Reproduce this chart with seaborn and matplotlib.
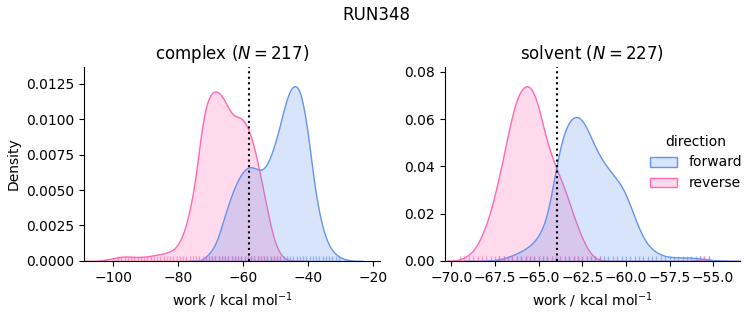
import numpy as np
import pandas as pd
import matplotlib
matplotlib.use("Agg")
import matplotlib.pyplot as plt
import seaborn as sns

# ---------------- data ----------------
phases = ["complex", "solvent"]
directions = ["forward", "reverse"]
n_samples = {"complex": 217, "solvent": 227}
free_energy = {"complex": -58.25, "solvent": -63.97}   # dotted vertical lines
palette = {"forward": "cornflowerblue", "reverse": "hotpink"}

# work grid (kcal/mol) and density at each grid point
complex_step = 1.0
complex_forward_start = -72.5
complex_forward_density = [
    0.0001, 0.0003, 0.0005, 0.0008, 0.0012, 0.0018, 0.0026, 0.0034, 0.0041, 0.0048,
    0.0054, 0.0059, 0.0063, 0.0066, 0.0068, 0.0068, 0.0067, 0.0066, 0.0065, 0.0066,
    0.0070, 0.0075, 0.0082, 0.0090, 0.0099, 0.0109, 0.0118, 0.0124, 0.0127, 0.0127,
    0.0124, 0.0114, 0.0100, 0.0083, 0.0062, 0.0046, 0.0034, 0.0023, 0.0016, 0.0011,
    0.0007, 0.0005, 0.0003, 0.0002, 0.0001, 0.0001]
complex_reverse_start = -103.5
complex_reverse_density = [
    0.00005, 0.0001, 0.00013, 0.00018, 0.00022, 0.00027, 0.0003, 0.00033, 0.00032, 0.0003,
    0.00028, 0.00028, 0.0003, 0.0003, 0.00033, 0.00037, 0.00042, 0.00046, 0.0005, 0.00053,
    0.0006, 0.0007, 0.0008, 0.0010, 0.0014, 0.0019, 0.0026, 0.0036, 0.0047, 0.0062,
    0.0082, 0.0100, 0.0112, 0.0119, 0.0122, 0.0123, 0.0122, 0.0119, 0.0115, 0.0110,
    0.0106, 0.0104, 0.0104, 0.0103, 0.0101, 0.0096, 0.0090, 0.0081, 0.0071, 0.0059,
    0.0048, 0.0036, 0.0025, 0.0015, 0.0009, 0.0005, 0.0002, 0.0001, 0.00005]

solvent_step = 0.25
solvent_forward_start = -68.0
solvent_forward_density = [
    0.0001, 0.0002, 0.0004, 0.0007, 0.0011, 0.0017, 0.0025, 0.0033, 0.0042, 0.0053,
    0.0067, 0.0084, 0.0108, 0.0145, 0.0200, 0.0295, 0.0405, 0.0500, 0.0565, 0.0607,
    0.0625, 0.0627, 0.0612, 0.0578, 0.0535, 0.0492, 0.0455, 0.0425, 0.0400, 0.0375,
    0.0352, 0.0325, 0.0290, 0.0240, 0.0190, 0.0140, 0.0100, 0.0072, 0.0050, 0.0037,
    0.0028, 0.0021, 0.0018, 0.0016, 0.0016, 0.0015, 0.0015, 0.0014, 0.0013, 0.0011,
    0.0009, 0.0006, 0.0004, 0.0002, 0.0001]
solvent_reverse_start = -70.0
solvent_reverse_density = [
    0.0001, 0.0003, 0.0007, 0.0015, 0.0027, 0.0045, 0.0072, 0.0110, 0.0158, 0.0218,
    0.0290, 0.0370, 0.0460, 0.0550, 0.0636, 0.0702, 0.0742, 0.0760, 0.0756, 0.0725,
    0.0665, 0.0585, 0.0512, 0.0455, 0.0405, 0.0358, 0.0310, 0.0255, 0.0198, 0.0145,
    0.0098, 0.0060, 0.0030, 0.0013, 0.0005, 0.0002]
solvent_reverse_tail_work = [-56.0, -55.75, -55.5, -55.25, -55.0]
solvent_reverse_tail_density = [0.0003, 0.0005, 0.0006, 0.0005, 0.0003]

# smallest density at which a rug tick is shown
rug_threshold = {"complex": 0.00025, "solvent": 0.0005}

xlims = {"complex": (-108.9, -17.9), "solvent": (-70.38, -53.45)}
ylims = {"complex": (0, 0.01367), "solvent": (0, 0.0821)}

# ---------------- build the table ----------------
frames = []


def add(phase, direction, work, density, step):
    density = np.asarray(density, dtype=float)
    frames.append(pd.DataFrame({
        "phase": phase,
        "direction": direction,
        "work": np.asarray(work, dtype=float),
        "density": density,
        "weight": density * step,
    }))


def grid(start, step, n):
    return start + step * np.arange(n)


add("complex", "forward",
    grid(complex_forward_start, complex_step, len(complex_forward_density)),
    complex_forward_density, complex_step)
add("complex", "reverse",
    grid(complex_reverse_start, complex_step, len(complex_reverse_density)),
    complex_reverse_density, complex_step)
add("solvent", "forward",
    grid(solvent_forward_start, solvent_step, len(solvent_forward_density)),
    solvent_forward_density, solvent_step)
add("solvent", "reverse",
    grid(solvent_reverse_start, solvent_step, len(solvent_reverse_density)),
    solvent_reverse_density, solvent_step)
add("solvent", "reverse", solvent_reverse_tail_work,
    solvent_reverse_tail_density, solvent_step)

df = pd.concat(frames, ignore_index=True)

# ---------------- plot ----------------
g = sns.displot(
    data=df, x="work", hue="direction", col="phase", weights="weight",
    kind="kde", fill=True, common_norm=True, bw_method=0.11,
    hue_order=directions, col_order=phases, palette=palette,
    facet_kws=dict(sharex=False, sharey=False),
    height=3, aspect=1.2,
)

for ax, phase in zip(g.axes.flat, phases):
    sub = df[(df["phase"] == phase) & (df["density"] >= rug_threshold[phase])]
    sns.rugplot(data=sub, x="work", hue="direction", hue_order=directions,
                palette=palette, ax=ax, height=0.025, alpha=0.6,
                linewidth=1, legend=False)
    ax.set_title(f"{phase} ($N={n_samples[phase]}$)", fontsize=12)
    ax.axvline(free_energy[phase], color="black", linestyle=":", linewidth=1.5)
    ax.set_xlabel("work / kcal mol$^{-1}$")
    ax.set_xlim(*xlims[phase])
    ax.set_ylim(*ylims[phase])

g.axes.flat[0].set_ylabel("Density")
g.axes.flat[1].set_ylabel("")

sns.move_legend(g, "center left", bbox_to_anchor=(0.846, 0.5), frameon=False,
                title="direction")

fig = g.figure
fig.suptitle("RUN348", fontsize=12)
fig.set_size_inches(7.53, 3.25)
fig.subplots_adjust(left=0.112, right=0.983, bottom=0.197, top=0.794, wspace=0.22)
fig.savefig("out.png", dpi=100)
